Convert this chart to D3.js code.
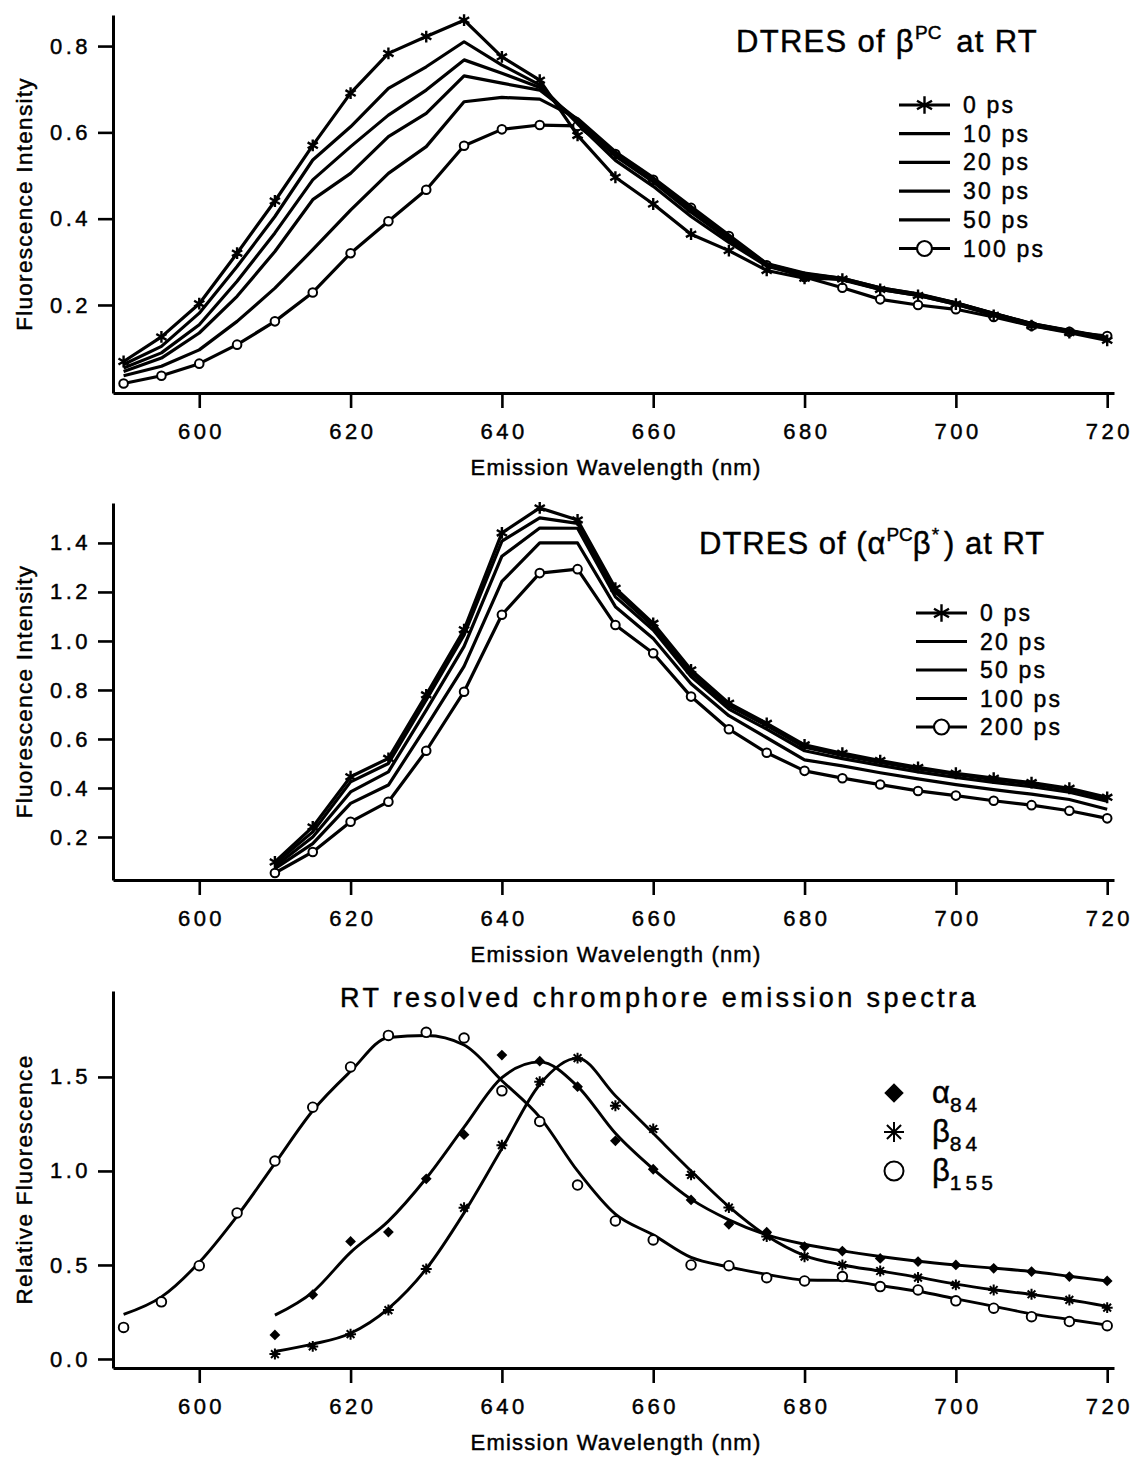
<!DOCTYPE html>
<html>
<head>
<meta charset="utf-8">
<script src="https://cdn.jsdelivr.net/npm/d3@7"></script>
<style>
  body { margin: 0; background: #fff; }
  svg { display: block; font-family: 'Liberation Sans', Arial, Helvetica, sans-serif; }
  svg text { stroke: #000; stroke-width: 0.45px; }
</style>
</head>
<body>
<div id="chart"></div>
<script>
// wavelengths (nm)
const wl590 = [590, 595, 600, 605, 610, 615, 620, 625, 630, 635, 640, 645, 650, 655, 660, 665, 670, 675, 680, 685, 690, 695, 700, 705, 710, 715, 720]
const wl610 = [610, 615, 620, 625, 630, 635, 640, 645, 650, 655, 660, 665, 670, 675, 680, 685, 690, 695, 700, 705, 710, 715, 720]
const xTicks = [600, 620, 640, 660, 680, 700, 720]

// panel 1: DTRES of beta-PC
const betaLabels = ['0 ps', '10 ps', '20 ps', '30 ps', '50 ps', '100 ps']
const beta0 = [0.069, 0.126, 0.203, 0.320, 0.441, 0.570, 0.691, 0.783, 0.822, 0.860, 0.775, 0.721, 0.593, 0.496, 0.434, 0.364, 0.326, 0.280, 0.262, 0.260, 0.236, 0.222, 0.202, 0.176, 0.152, 0.136, 0.118]
const beta10 = [0.062, 0.104, 0.181, 0.289, 0.405, 0.536, 0.613, 0.702, 0.752, 0.810, 0.756, 0.710, 0.620, 0.535, 0.475, 0.405, 0.345, 0.290, 0.268, 0.258, 0.236, 0.222, 0.202, 0.178, 0.154, 0.138, 0.122]
const beta20 = [0.054, 0.089, 0.154, 0.255, 0.367, 0.490, 0.567, 0.640, 0.698, 0.768, 0.737, 0.704, 0.625, 0.545, 0.485, 0.415, 0.352, 0.292, 0.270, 0.260, 0.238, 0.224, 0.204, 0.180, 0.156, 0.140, 0.123]
const beta30 = [0.046, 0.077, 0.135, 0.220, 0.324, 0.444, 0.505, 0.590, 0.644, 0.731, 0.714, 0.698, 0.630, 0.550, 0.490, 0.422, 0.358, 0.295, 0.272, 0.262, 0.240, 0.225, 0.205, 0.180, 0.157, 0.140, 0.124]
const beta50 = [0.036, 0.058, 0.096, 0.162, 0.239, 0.328, 0.420, 0.505, 0.567, 0.671, 0.681, 0.677, 0.632, 0.555, 0.495, 0.428, 0.362, 0.296, 0.274, 0.262, 0.240, 0.226, 0.205, 0.181, 0.157, 0.141, 0.125]
const beta100 = [0.018, 0.036, 0.064, 0.108, 0.162, 0.229, 0.320, 0.394, 0.467, 0.569, 0.607, 0.617, 0.615, 0.550, 0.490, 0.425, 0.360, 0.292, 0.265, 0.240, 0.213, 0.200, 0.190, 0.172, 0.152, 0.138, 0.128]

// panel 2: DTRES of (alpha-PC beta*)
const abLabels = ['0 ps', '20 ps', '50 ps', '100 ps', '200 ps']
const ab0 = [0.098, 0.241, 0.446, 0.521, 0.780, 1.046, 1.441, 1.543, 1.494, 1.215, 1.072, 0.882, 0.746, 0.664, 0.576, 0.542, 0.512, 0.484, 0.460, 0.440, 0.422, 0.399, 0.362]
const ab20 = [0.091, 0.221, 0.425, 0.500, 0.759, 1.025, 1.407, 1.502, 1.480, 1.200, 1.060, 0.870, 0.735, 0.655, 0.566, 0.533, 0.504, 0.478, 0.455, 0.434, 0.416, 0.394, 0.356]
const ab50 = [0.080, 0.200, 0.384, 0.466, 0.718, 0.978, 1.346, 1.461, 1.460, 1.180, 1.045, 0.855, 0.722, 0.640, 0.552, 0.520, 0.492, 0.466, 0.443, 0.423, 0.405, 0.383, 0.346]
const ab100 = [0.071, 0.173, 0.337, 0.412, 0.650, 0.896, 1.243, 1.400, 1.400, 1.140, 1.010, 0.825, 0.695, 0.605, 0.515, 0.490, 0.462, 0.437, 0.414, 0.393, 0.375, 0.353, 0.313]
const ab200 = [0.053, 0.139, 0.262, 0.344, 0.552, 0.793, 1.107, 1.277, 1.293, 1.065, 0.950, 0.773, 0.640, 0.544, 0.470, 0.440, 0.414, 0.388, 0.369, 0.348, 0.330, 0.307, 0.276]

// panel 3: resolved chromophore spectra (points + fitted curve)
const b155Pts = [0.168, 0.304, 0.496, 0.777, 1.053, 1.339, 1.553, 1.721, 1.737, 1.707, 1.426, 1.263, 0.925, 0.734, 0.633, 0.500, 0.496, 0.432, 0.415, 0.438, 0.385, 0.367, 0.309, 0.270, 0.225, 0.199, 0.177]
const b155Fit = [0.237, 0.330, 0.514, 0.760, 1.040, 1.320, 1.530, 1.710, 1.720, 1.670, 1.480, 1.286, 1.000, 0.770, 0.660, 0.540, 0.490, 0.450, 0.420, 0.418, 0.390, 0.360, 0.320, 0.280, 0.240, 0.210, 0.180]
const a84Pts = [0.128, 0.342, 0.625, 0.675, 0.958, 1.193, 1.616, 1.584, 1.448, 1.160, 1.009, 0.846, 0.716, 0.674, 0.597, 0.574, 0.535, 0.518, 0.500, 0.482, 0.465, 0.438, 0.415]
const a84Fit = [0.233, 0.356, 0.567, 0.733, 0.961, 1.233, 1.496, 1.580, 1.450, 1.200, 1.010, 0.850, 0.740, 0.660, 0.610, 0.575, 0.545, 0.520, 0.500, 0.483, 0.465, 0.440, 0.415]
const b84Pts = [0.026, 0.067, 0.132, 0.260, 0.479, 0.804, 1.137, 1.475, 1.600, 1.347, 1.223, 0.979, 0.805, 0.651, 0.544, 0.500, 0.468, 0.433, 0.394, 0.367, 0.344, 0.314, 0.273]
const b84Fit = [0.040, 0.079, 0.137, 0.268, 0.479, 0.777, 1.119, 1.460, 1.600, 1.400, 1.200, 1.000, 0.810, 0.655, 0.550, 0.500, 0.468, 0.435, 0.398, 0.368, 0.343, 0.315, 0.280]

const svg = d3.select('#chart').append('svg').attr('width', 1133).attr('height', 1459)

const x = d3.scaleLinear().domain([588.6, 720.9]).range([113, 1114])

// asterisk with n strokes through the centre
function asterisk(n, tilt) {
  return {
    draw(ctx, size) {
      const r = Math.sqrt(size) / 2
      for (let k = 0; k < n; k++) {
        const a = tilt + (k * Math.PI) / n
        ctx.moveTo(-r * Math.cos(a), -r * Math.sin(a))
        ctx.lineTo(r * Math.cos(a), r * Math.sin(a))
      }
    }
  }
}

function styleAxis(sel) {
  sel.attr('font-family', null).attr('font-size', null)
  sel.select('.domain').attr('stroke-width', 3)
  sel.selectAll('.tick line').attr('stroke-width', 2.6)
  sel.selectAll('.tick text').attr('font-size', 22).attr('letter-spacing', 3.5).attr('fill', '#000')
}

function drawFrame(p) {
  const y = d3.scaleLinear().domain(p.yDomain).range([p.bottom, p.top])
  const g = svg.append('g')

  g.append('g')
    .attr('transform', `translate(0,${p.bottom})`)
    .call(d3.axisBottom(x).tickValues(xTicks).tickSize(15).tickSizeOuter(0).tickPadding(15).tickFormat(d3.format('d')))
    .call(styleAxis)
    .selectAll('.tick text').attr('dx', 1.75)

  g.append('g')
    .attr('transform', `translate(${x.range()[0]},0)`)
    .call(d3.axisLeft(y).tickValues(p.yTicks).tickSize(15).tickSizeOuter(0).tickPadding(7).tickFormat(d3.format('.1f')))
    .call(styleAxis)

  g.append('text')
    .attr('x', 616)
    .attr('y', p.bottom + 82)
    .attr('text-anchor', 'middle')
    .attr('font-size', 22)
    .attr('letter-spacing', 1.2)
    .text('Emission Wavelength (nm)')

  g.append('text')
    .attr('transform', `translate(32,${(p.top + p.bottom) / 2}) rotate(-90)`)
    .attr('text-anchor', 'middle')
    .attr('font-size', 22.5)
    .attr('letter-spacing', 1.3)
    .text(p.yTitle)

  return { g, y }
}

const line = (y, curve) => d3.line().x(d => x(d[0])).y(d => y(d[1])).curve(curve || d3.curveLinear)

// legend for the DTRES panels: line sample, optional marker, label
function lineLegend(g, labels, x0, x1, y0, dy) {
  const rows = g.append('g').selectAll('g').data(labels).join('g')
    .attr('transform', (d, i) => `translate(0,${y0 + i * dy})`)
  rows.append('line').attr('x1', x0).attr('x2', x1).attr('stroke', '#000').attr('stroke-width', 3.2)
  rows.filter((d, i) => i === 0).append('path')
    .attr('transform', `translate(${(x0 + x1) / 2},0)`)
    .attr('d', d3.symbol(asterisk(3, Math.PI / 2), 300)())
    .attr('stroke', '#000').attr('stroke-width', 2.4)
  rows.filter((d, i) => i === labels.length - 1).append('circle')
    .attr('cx', (x0 + x1) / 2).attr('r', 7.5)
    .attr('fill', '#fff').attr('stroke', '#000').attr('stroke-width', 2.2)
  rows.append('text')
    .attr('x', x1 + 13).attr('dy', '0.35em')
    .attr('font-size', 23).attr('letter-spacing', 2.2)
    .text(d => d)
}

function dtresPanel(p, wl, series) {
  const { g, y } = drawFrame(p)
  const path = line(y)
  const last = series.length - 1
  const drawLine = vals => g.append('path')
    .attr('d', path(d3.zip(wl, vals)))
    .attr('fill', 'none').attr('stroke', '#000').attr('stroke-width', 3.2)
    .attr('stroke-linejoin', 'round')

  // longest delay (open circles) goes underneath the others
  drawLine(series[last])
  g.append('g').selectAll('circle').data(d3.zip(wl, series[last])).join('circle')
    .attr('cx', d => x(d[0])).attr('cy', d => y(d[1])).attr('r', 4.3)
    .attr('fill', '#fff').attr('stroke', '#000').attr('stroke-width', 2)
  series.slice(0, last).reverse().forEach(drawLine)

  // 0 ps markers: asterisks
  g.append('g').selectAll('path').data(d3.zip(wl, series[0])).join('path')
    .attr('transform', d => `translate(${x(d[0])},${y(d[1])})`)
    .attr('d', d3.symbol(asterisk(3, Math.PI / 2), 140)())
    .attr('stroke', '#000').attr('stroke-width', 2.4)
  return g
}

// panel 1
const g1 = dtresPanel(
  { top: 15, bottom: 393, yDomain: [-0.004, 0.872], yTicks: [0.2, 0.4, 0.6, 0.8], yTitle: 'Fluorescence Intensity' },
  wl590, [beta0, beta10, beta20, beta30, beta50, beta100])
lineLegend(g1, betaLabels, 899, 950, 105, 28.7)
const t1 = g1.append('text').attr('x', 736).attr('y', 52).attr('font-size', 31).attr('letter-spacing', 1.3)
t1.append('tspan').text('DTRES of β')
t1.append('tspan').attr('dy', -13).attr('font-size', 19).attr('letter-spacing', 0).text('PC')
t1.append('tspan').attr('dy', 13).attr('dx', 5).text(' at RT')

// panel 2
const g2 = dtresPanel(
  { top: 503, bottom: 880, yDomain: [0.0245, 1.563], yTicks: [0.2, 0.4, 0.6, 0.8, 1.0, 1.2, 1.4], yTitle: 'Fluorescence Intensity' },
  wl610, [ab0, ab20, ab50, ab100, ab200])
lineLegend(g2, abLabels, 916, 967, 613, 28.5)
const t2 = g2.append('text').attr('x', 699).attr('y', 554).attr('font-size', 31).attr('letter-spacing', 1)
t2.append('tspan').text('DTRES of (α')
t2.append('tspan').attr('dy', -13).attr('font-size', 19).attr('letter-spacing', 0).text('PC')
t2.append('tspan').attr('dy', 13).text('β')
t2.append('tspan').attr('dy', -13).attr('font-size', 19).text('*')
t2.append('tspan').attr('dy', 13).attr('dx', 4).text(') at RT')

// panel 3
const p3 = drawFrame({ top: 991, bottom: 1368, yDomain: [-0.048, 1.957], yTicks: [0.0, 0.5, 1.0, 1.5], yTitle: 'Relative Fluorescence' })
const g3 = p3.g, y3 = p3.y
const fitPath = line(y3, d3.curveMonotoneX)
;[[wl590, b155Fit], [wl610, a84Fit], [wl610, b84Fit]].forEach(([wl, vals]) => {
  g3.append('path')
    .attr('d', fitPath(d3.zip(wl, vals)))
    .attr('fill', 'none').attr('stroke', '#000').attr('stroke-width', 2.9)
})
g3.append('g').selectAll('circle').data(d3.zip(wl590, b155Pts)).join('circle')
  .attr('cx', d => x(d[0])).attr('cy', d => y3(d[1])).attr('r', 4.8)
  .attr('fill', '#fff').attr('stroke', '#000').attr('stroke-width', 1.9)
g3.append('g').selectAll('path').data(d3.zip(wl610, a84Pts)).join('path')
  .attr('transform', d => `translate(${x(d[0])},${y3(d[1])}) rotate(45)`)
  .attr('d', d3.symbol(d3.symbolSquare, 58)())
  .attr('fill', '#000')
g3.append('g').selectAll('path').data(d3.zip(wl610, b84Pts)).join('path')
  .attr('transform', d => `translate(${x(d[0])},${y3(d[1])})`)
  .attr('d', d3.symbol(asterisk(4, 0), 120)())
  .attr('stroke', '#000').attr('stroke-width', 2)

g3.append('text').attr('x', 340).attr('y', 1007).attr('font-size', 27).attr('letter-spacing', 3.4)
  .text('RT resolved chromphore emission spectra')

// panel 3 legend
const legend3 = [
  { sym: 'diamond', main: 'α', sub: '84' },
  { sym: 'star', main: 'β', sub: '84' },
  { sym: 'circle', main: 'β', sub: '155' }
]
const l3 = g3.append('g').selectAll('g').data(legend3).join('g')
  .attr('transform', (d, i) => `translate(894,${1093 + i * 39})`)
l3.filter(d => d.sym === 'diamond').append('path')
  .attr('transform', 'rotate(45)')
  .attr('d', d3.symbol(d3.symbolSquare, 190)()).attr('fill', '#000')
l3.filter(d => d.sym === 'star').append('path')
  .attr('d', d3.symbol(asterisk(4, 0), 400)()).attr('stroke', '#000').attr('stroke-width', 2)
l3.filter(d => d.sym === 'circle').append('circle')
  .attr('r', 9.5).attr('fill', '#fff').attr('stroke', '#000').attr('stroke-width', 2)
const lt = l3.append('text').attr('x', 38).attr('y', 10).attr('font-size', 31)
lt.append('tspan').text(d => d.main)
lt.append('tspan').attr('dy', 9).attr('font-size', 21).attr('letter-spacing', 4).text(d => d.sub)
</script>
</body>
</html>
